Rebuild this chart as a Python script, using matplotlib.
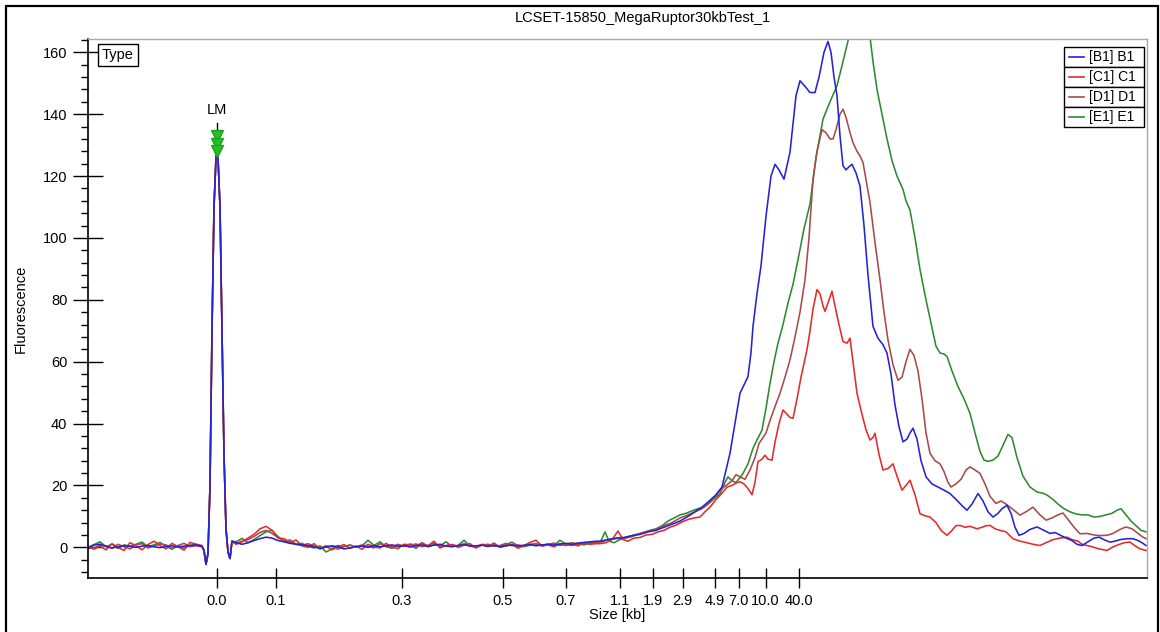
import numpy as np
import matplotlib
matplotlib.use('Agg')
import matplotlib.pyplot as plt
from matplotlib.ticker import MultipleLocator
from matplotlib.patches import Rectangle
from matplotlib.lines import Line2D

plt.rcParams['font.family'] = ['Liberation Sans', 'DejaVu Sans']

title = 'LCSET-15850_MegaRuptor30kbTest_1'
labels = ['[B1] B1', '[C1] C1', '[D1] D1', '[E1] E1']
colors = ['#2323d6', '#e52a2a', '#a84a4a', '#2f8a2f']

# size axis (migration position) ticks
tick_pos = [217, 275.5, 401.5, 502.5, 565.6, 620, 653, 682.5, 715, 738.7, 765.5, 799]
tick_lab = ['0.0', '0.1', '0.3', '0.5', '0.7', '1.1', '1.9', '2.9', '4.9', '7.0', '10.0', '40.0']

# shared position grids for the baseline
x_pre = np.arange(88, 203, 6)
x_lm = [204, 206, 208, 210, 212, 214, 216, 217, 218, 220, 222, 224, 226, 228, 230, 232]
y_lm = [-1.0, -5.5, -2.0, 20, 70, 110, 126, 128, 126, 110, 70, 30, 6, -1.5, -3.6, 2.0]
x_post = np.arange(236, 597, 6)

blue_pre = [-0.5, 0.8, 1.0, 0.3, -0.2, 0.2, 0.5, 0.3, 0.0, 0.4,
            0.6, 0.2, -0.1, 0.3, 0.5, 0.1, 0.4, 0.6, 0.8, 0.3]
red_pre = [0.2, -0.6, 0.4, -0.8, 1.2, 0.0, -1.0, 1.5, 0.5, -0.8,
           0.9, 2.0, 0.6, -0.5, 1.3, 0.2, -0.9, 1.6, 1.0, 0.6]
brown_pre = [0.3, -0.2, 0.8, 0.5, -0.3, 1.0, 0.2, -0.5, 0.8, 1.2,
             -0.2, 0.4, 1.1, 0.8, -0.3, 0.6, 1.3, 0.2, 0.5, 0.2]
green_pre = [0.0, 0.9, 1.8, 0.2, 1.0, -0.4, 0.8, 0.4, 1.0, 1.7,
             0.2, 0.8, 1.6, 0.3, -0.6, 0.5, -0.2, 0.6, 1.0, 0.4]

blue_post = [1.5, 1.0, 1.5, 2.2, 2.8, 3.3, 3.0, 2.2, 1.8, 1.3,
             1.0, 0.8, 0.6, 0.2, -0.4, 0.1, 0.5, 0.2, -0.5, -0.2,
             0.3, 0.4, 0.0, 0.6, 0.2, 0.5, 0.8, 0.3, 0.6, 0.1,
             0.5, 0.8, 0.3, 0.7, 1.0, 0.4, 0.2, 0.6, 0.9, 0.4,
             0.5, 0.7, 0.3, 0.6, 0.2, 0.5, 0.8, 0.4, 0.7, 0.9,
             0.5, 0.8, 1.0, 0.7, 1.1, 1.3, 1.0, 1.4, 1.6, 1.8,
             2.0]
red_post = [1.0, 1.8, 3.0, 4.2, 6.0, 6.8, 5.5, 3.0, 2.8, 1.5,
            2.4, 0.5, 0.0, 1.2, -0.5, 0.3, -0.8, 0.2, 0.9, -0.3,
            0.4, -0.6, 1.0, 0.2, -0.2, 1.3, 0.0, -0.4, 1.0, 0.8,
            -0.3, 1.5, 0.4, 2.0, -0.2, 0.6, 0.9, 0.0, 0.7, 1.2,
            -0.2, 0.8, 0.3, 1.4, 0.0, 0.5, 1.0, -0.3, 0.6, 1.6,
            2.3, 0.4, 0.8, 0.2, 1.2, 0.6, 1.0, 0.5, 1.5, 1.0,
            1.2]
brown_post = [1.2, 2.0, 2.5, 3.5, 4.8, 5.5, 4.5, 3.2, 2.0, 2.4,
              1.0, 0.6, 1.2, 0.4, -0.2, 0.5, 0.2, -0.6, 0.3, 0.7,
              0.1, 0.8, 0.4, -0.2, 1.2, 0.5, 0.2, 1.0, 0.3, 0.6,
              1.1, 0.2, 0.7, 1.4, 0.3, 0.5, 0.9, 0.4, 1.2, 0.6,
              0.3, 0.8, 1.0, 0.4, 0.6, 1.3, 0.5, 0.8, 0.4, 1.0,
              1.2, 0.7, 0.9, 1.4, 0.6, 1.1, 1.5, 1.0, 1.3, 1.6,
              1.5]
green_post = [1.8, 2.9, 1.5, 2.5, 3.8, 5.0, 5.5, 3.5, 2.0, 1.8,
              1.0, 1.3, 0.3, -0.2, 0.5, -1.5, -0.5, 0.6, 0.2, 0.8,
              0.0, 0.5, 2.3, 0.6, 1.8, 0.2, -0.3, 0.8, 0.4, 1.1,
              0.6, 1.4, 0.2, 0.9, 0.5, 1.8, 0.3, 0.6, 2.3, 0.4,
              0.0, 1.0, 0.5, 0.8, 0.3, 0.9, 1.7, 0.5, 0.2, 0.7,
              0.9, 0.5, 1.1, 0.6, 2.3, 1.0, 0.6, 1.2, 0.8, 1.3,
              1.4]

# main fragment peak region, per sample
blue_x = [600, 608, 616, 624, 632, 640, 648, 656, 664, 672,
          680, 688, 695, 702, 710, 716, 722, 726, 730, 735,
          740, 744, 748, 751, 753, 757, 761, 766, 771, 775,
          779, 784, 790, 796, 800, 805, 810, 815, 819, 824,
          828, 831, 834, 837, 840, 843, 846, 849, 852, 856,
          860, 864, 868, 873, 878, 883, 887, 891, 895, 899,
          903, 907, 910, 913, 917, 921, 926, 932, 938, 944,
          950, 956, 962, 967, 972, 978, 983, 988, 993, 998,
          1002, 1007, 1011, 1015, 1019, 1024, 1030, 1037, 1044, 1050,
          1055, 1060, 1066, 1072, 1077, 1082, 1088, 1094, 1099, 1104,
          1110, 1115, 1120, 1127, 1133, 1138, 1142, 1146]
blue_y = [2.0, 2.5, 3.0, 3.2, 3.8, 4.2, 5.0, 5.5, 6.5, 7.5,
          8.5, 10.0, 11.5, 13.0, 15.2, 17.0, 19.5, 25.0, 30.4, 40.0,
          49.8, 52.5, 55.2, 63.0, 71.4, 82.0, 91.0, 107.0, 120.0, 123.8,
          122.0, 119.0, 127.7, 146.0, 150.8, 149.0, 147.0, 147.0, 152.0, 160.0,
          163.5, 160.0, 152.0, 146.0, 133.0, 123.3, 122.0, 123.0, 123.8, 121.0,
          116.8, 104.0, 88.0, 71.4, 67.6, 65.5, 62.8, 56.0, 46.0, 39.0,
          34.1, 35.0, 37.0, 38.5, 35.0, 28.0, 22.8, 20.5, 19.5, 18.5,
          17.4, 15.5, 13.5, 12.0, 14.0, 17.4, 15.0, 11.5, 9.8, 11.0,
          12.5, 13.6, 11.0, 6.5, 3.9, 4.5, 5.8, 6.6, 5.5, 4.5,
          4.8, 4.0, 3.0, 2.2, 1.0, 0.6, 1.8, 3.0, 3.3, 2.5,
          1.7, 2.0, 2.5, 2.8, 2.8, 2.2, 1.5, 0.6]

red_x = [600, 606, 612, 618, 623, 628, 634, 640, 646, 652,
         658, 664, 670, 676, 682, 688, 694, 700, 705, 710,
         716, 722, 727, 732, 736, 740, 744, 748, 752, 755,
         758, 762, 765, 768, 772, 775, 779, 783, 787, 790,
         793, 797, 801, 807, 810, 813, 817, 820, 823, 825,
         828, 832, 835, 839, 843, 847, 850, 853, 857, 862,
         866, 870, 873, 875, 879, 883, 888, 893, 897, 902,
         906, 910, 915, 920, 925, 930, 936, 941, 947, 952,
         956, 960, 965, 970, 977, 982, 986, 990, 995, 1000,
         1006, 1013, 1020, 1027, 1033, 1040, 1046, 1053, 1060, 1067,
         1072, 1078, 1082, 1087, 1092, 1099, 1107, 1112, 1118, 1124,
         1130, 1135, 1140, 1146]
red_y = [1.2, 1.5, 2.5, 5.3, 2.5, 2.0, 3.0, 3.2, 4.0, 4.2,
         5.0, 5.5, 6.5, 7.2, 8.2, 9.0, 9.5, 9.8, 11.5, 13.0,
         15.5, 17.5, 19.5, 20.0, 20.8, 21.2, 20.5, 19.0, 17.0, 21.0,
         27.7, 28.5, 29.8, 28.5, 28.2, 34.0, 40.0, 44.4, 43.0, 42.0,
         41.7, 48.0, 55.0, 63.9, 70.0, 77.0, 83.3, 82.0, 78.0, 76.3,
         79.0, 82.8, 78.0, 72.0, 66.5, 66.0, 67.6, 60.0, 49.8, 43.0,
         38.0, 34.7, 35.5, 36.9, 30.0, 25.0, 25.5, 27.0, 23.0, 18.5,
         20.0, 21.7, 17.0, 10.9, 10.2, 9.8, 8.0, 5.5, 3.9, 5.5,
         7.0, 7.1, 6.5, 6.8, 6.0, 6.5, 7.0, 7.1, 6.0, 5.5,
         5.0, 2.8, 2.0, 1.5, 1.0, 0.6, 1.5, 2.5, 3.0, 3.3,
         2.5, 2.0, 1.0, 0.6, 0.2, -0.5, -1.0, 0.0, 0.8, 1.5,
         1.7, 0.5, -0.5, -1.0]

brown_x = [600, 608, 616, 624, 632, 640, 648, 656, 664, 672,
           680, 688, 695, 702, 708, 714, 720, 726, 732, 736,
           740, 745, 750, 755, 759, 762, 766, 770, 775, 780,
           785, 790, 795, 800, 805, 809, 813, 817, 822, 826,
           830, 833, 836, 840, 843, 846, 850, 853, 857, 860,
           863, 867, 870, 875, 880, 884, 888, 893, 898, 902,
           906, 910, 914, 918, 922, 926, 930, 935, 940, 944,
           948, 951, 956, 961, 966, 970, 975, 980, 985, 990,
           996, 1001, 1006, 1012, 1020, 1026, 1033, 1040, 1046, 1052,
           1058, 1063, 1068, 1074, 1080, 1087, 1094, 1100, 1107, 1113,
           1120, 1126, 1132, 1138, 1142, 1146]
brown_y = [1.5, 2.5, 2.8, 3.0, 3.8, 4.5, 5.2, 5.8, 7.0, 8.0,
           9.5, 10.5, 11.5, 12.5, 14.0, 16.0, 18.5, 20.0, 21.5, 23.5,
           22.8, 22.0, 25.0, 29.0, 33.6, 35.0, 37.0, 41.0, 45.5, 49.8,
           55.0, 60.6, 68.0, 76.0, 86.5, 100.0, 119.0, 128.0, 135.0, 134.0,
           132.0, 132.0, 135.0, 140.0, 141.6, 139.0, 134.0, 130.8, 128.0, 126.5,
           124.4, 117.0, 111.5, 98.5, 86.5, 76.0, 67.0, 59.0, 54.0, 55.0,
           60.0, 64.0, 62.0, 57.0, 48.0, 37.0, 30.4, 28.0, 27.0, 24.5,
           21.0, 19.5, 20.5, 22.0, 25.0, 26.0, 25.0, 23.9, 20.5, 16.5,
           14.2, 15.0, 14.0, 12.5, 10.4, 11.5, 13.0, 10.5, 8.8, 9.5,
           10.5, 11.1, 9.0, 6.5, 4.4, 4.5, 4.0, 3.8, 3.9, 4.5,
           5.8, 6.6, 6.0, 4.5, 3.5, 2.8]

green_x = [600, 605, 609, 614, 620, 626, 632, 638, 644, 650,
           656, 662, 668, 674, 680, 686, 692, 698, 704, 710,
           715, 720, 725, 728, 732, 736, 740, 743, 748, 753,
           757, 762, 766, 770, 774, 778, 783, 788, 793, 798,
           804, 810, 816, 823, 830, 837, 843, 849, 853, 858,
           863, 867, 870, 873, 877, 882, 887, 892, 897, 903,
           906, 910, 915, 920, 926, 932, 936, 940, 944, 947,
           952, 958, 964, 970, 975, 980, 984, 988, 993, 998,
           1003, 1008, 1012, 1017, 1023, 1030, 1037, 1043, 1047, 1053,
           1058, 1064, 1070, 1076, 1082, 1088, 1094, 1100, 1106, 1112,
           1117, 1121, 1126, 1131, 1136, 1141, 1146]
green_y = [1.4, 5.0, 2.0, 1.5, 2.5, 3.0, 3.5, 4.2, 4.8, 5.5,
           6.0, 7.0, 8.5, 9.5, 10.5, 11.0, 11.8, 12.5, 13.0, 14.5,
           16.0, 17.4, 21.0, 22.8, 21.5, 21.0, 22.5, 23.9, 27.0, 32.0,
           34.7, 37.9, 45.0, 53.0, 60.0, 66.0, 72.0, 79.0, 85.0, 93.0,
           103.0, 111.0, 126.0, 138.4, 144.0, 149.2, 157.0, 165.0, 172.0, 177.0,
           175.0, 169.0, 165.0, 157.0, 148.0, 140.0, 132.0, 125.0, 120.0, 115.7,
           112.0, 109.0, 100.0, 89.8, 80.0, 71.0, 65.0, 62.8, 62.5, 61.7,
           57.0, 52.0, 48.0, 43.3, 37.0, 31.0, 28.2, 27.8, 28.2, 29.5,
           33.0, 36.5, 35.5, 29.0, 23.0, 19.5, 17.9, 17.5, 16.9, 15.5,
           14.0, 12.5, 11.5, 10.8, 10.5, 10.5, 9.8, 10.0, 10.5, 11.0,
           12.0, 12.5, 10.5, 8.5, 7.0, 5.5, 5.0]

lm_pos = 217
lm_marks = [133.0, 130.5, 128.0]

series = [
    (blue_pre, blue_post, blue_x, blue_y),
    (red_pre, red_post, red_x, red_y),
    (brown_pre, brown_post, brown_x, brown_y),
    (green_pre, green_post, green_x, green_y),
]

fig = plt.figure(figsize=(11.6, 6.32), dpi=100)
W, H = 1160, 632
ax = fig.add_axes([88 / W, 1 - 578 / H, (1147 - 88) / W, (578 - 39) / H])

for i in [3, 2, 1, 0]:
    pre, post, mx, my = series[i]
    xx = np.concatenate([x_pre, x_lm, x_post, mx])
    yy = np.concatenate([pre, y_lm, post, my])
    ax.plot(xx, yy, color=colors[i], lw=1.15)

# lower marker
ax.plot([lm_pos, lm_pos], [127, 137], color='black', lw=1, zorder=4)
ax.plot([lm_pos] * 3, lm_marks, 'v', color='#22c022', ms=9, mec='#22a022', zorder=5)
ax.text(lm_pos, 141.5, 'LM', ha='center', va='center', fontsize=10.5)

ax.set_xlim(88, 1147)
ax.set_ylim(-9.9, 164.3)
ax.set_xticks(tick_pos)
ax.set_xticklabels(tick_lab)
ax.yaxis.set_major_locator(MultipleLocator(20))
ax.yaxis.set_minor_locator(MultipleLocator(4))
ax.tick_params(axis='y', which='major', direction='inout', length=21.6, width=1, labelsize=10.5, pad=4)
ax.tick_params(axis='y', which='minor', direction='out', length=5, width=1)
ax.tick_params(axis='x', which='major', direction='inout', length=14.4, width=1, labelsize=10.5, pad=4.5)

for s in ['top', 'right']:
    ax.spines[s].set_color('#a8a8a8')
    ax.spines[s].set_linewidth(1)
for s in ['left', 'bottom']:
    ax.spines[s].set_linewidth(1.2)

ax.set_xlabel('Size [kb]', fontsize=10.5, labelpad=0)
ax.set_ylabel('Fluorescence', fontsize=10.5, labelpad=11)

fig.text(643 / W, 1 - 18 / H, title, ha='center', va='center', fontsize=10.5)
fig.text(118 / W, 1 - 55 / H, 'Type', ha='center', va='center', fontsize=10.5,
         bbox=dict(boxstyle='square,pad=0.3', fc='white', ec='black', lw=1))

# stacked boxed legend, one box per sample
box_l, box_r, box_top, box_h = 1064, 1144, 47, 20
for i in range(4):
    top = box_top + box_h * i
    fig.add_artist(Rectangle((box_l / W, 1 - (top + box_h) / H), (box_r - box_l) / W, box_h / H,
                             transform=fig.transFigure, fc='white', ec='black', lw=1, zorder=6))
    yc = 1 - (top + box_h / 2) / H
    fig.add_artist(Line2D([1069 / W, 1084 / W], [yc, yc], transform=fig.transFigure,
                          color=colors[i], lw=1.2, zorder=7))
    fig.text(1089 / W, yc, labels[i], ha='left', va='center', fontsize=10, zorder=7)

fig.add_artist(Rectangle((6 / W, -0.1), (1158 - 6) / W, 1.1 - 6 / H, transform=fig.transFigure,
                         fill=False, ec='black', lw=1.6))

fig.savefig('out.png', dpi=100)
